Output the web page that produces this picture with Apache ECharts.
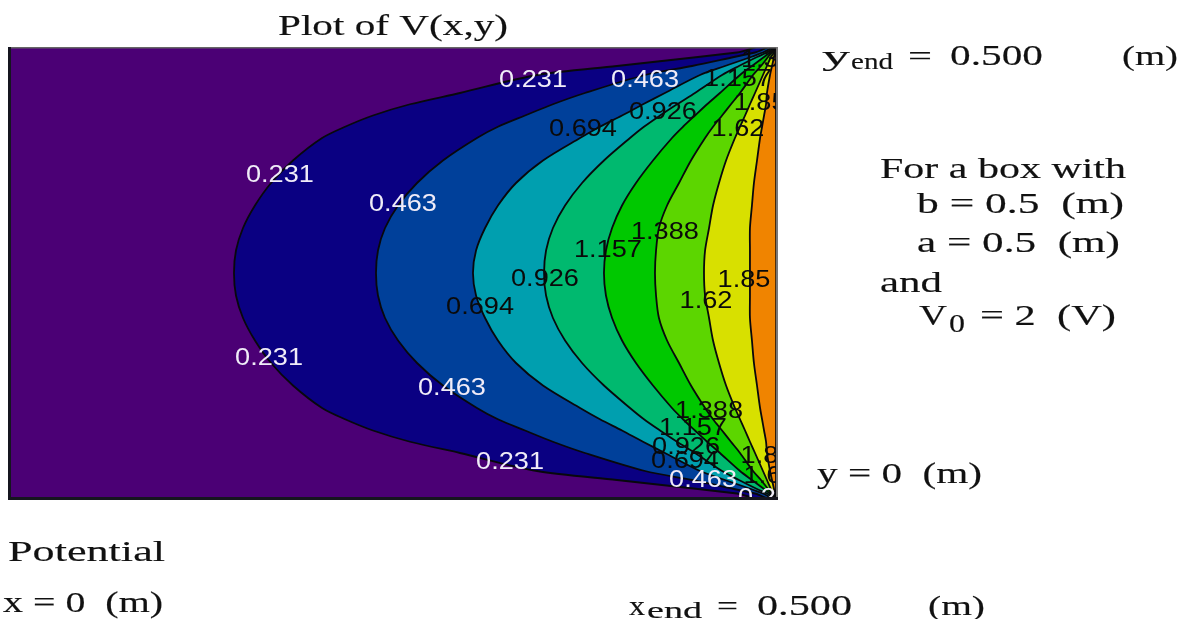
<!DOCTYPE html>
<html>
<head>
<meta charset="utf-8">
<style>html,body{margin:0;padding:0;background:#fff}#c{width:1181px;height:619px;filter:blur(0.45px)}</style>
<script src="https://cdn.jsdelivr.net/npm/echarts@6/dist/echarts.min.js"></script>
</head>
<body>
<div id="c"></div>
<script>
// Rows of the contour read-off, y in metres
const yRows = [0,.005,.01,.02,.03,.05,.0625,.075,.0875,.1,.125,.15,.175,.2,.225,.25,.275,.3,.325,.35,.375,.4,.4125,.425,.4375,.45,.47,.48,.49,.495,.5];
const levels = [0.231,0.463,0.694,0.926,1.157,1.388,1.62,1.85];
// x position (m) of each contour level on each row
const x0231 = [.5,.4745,.4491,.3962,.3440,.2937,.2611,.2369,.2187,.2037,.1847,.1704,.1599,.1521,.1475,.1462,.1475,.1521,.1599,.1704,.1847,.2037,.2187,.2369,.2611,.2937,.3440,.3962,.4491,.4745,.5];
const x0463 = [.5,.4863,.4726,.4452,.4145,.3753,.3544,.3362,.3185,.3048,.2826,.2657,.2533,.2448,.2402,.2389,.2402,.2448,.2533,.2657,.2826,.3048,.3185,.3362,.3544,.3753,.4145,.4452,.4726,.4863,.5];
const x0694 = [.5,.4915,.4837,.4667,.4504,.4275,.4132,.3995,.3851,.3721,.3479,.3303,.3185,.3101,.3042,.3022,.3042,.3101,.3185,.3303,.3479,.3721,.3851,.3995,.4132,.4275,.4504,.4667,.4837,.4915,.5];
const x0926 = [.5,.4941,.4876,.4758,.4648,.4471,.4354,.4243,.4138,.4047,.3877,.3734,.3623,.3544,.3499,.3486,.3499,.3544,.3623,.3734,.3877,.4047,.4138,.4243,.4354,.4471,.4648,.4758,.4876,.4941,.5];
const x1157 = [.5,.4961,.4922,.4843,.4765,.4634,.4550,.4471,.4393,.4321,.4197,.4086,.3995,.3930,.3890,.3877,.3890,.3930,.3995,.4086,.4197,.4321,.4393,.4471,.4550,.4634,.4765,.4843,.4922,.4961,.5];
const x1388 = [.5,.4974,.4948,.4902,.4850,.4765,.4706,.4648,.4589,.4537,.4445,.4367,.4289,.4236,.4217,.4210,.4217,.4236,.4289,.4367,.4445,.4537,.4589,.4648,.4706,.4765,.4850,.4902,.4948,.4974,.5];
const x1620 = [.5,.4987,.4967,.4941,.4915,.4863,.4830,.4798,.4765,.4732,.4674,.4628,.4589,.4563,.4537,.4530,.4537,.4563,.4589,.4628,.4674,.4732,.4765,.4798,.4830,.4863,.4915,.4941,.4967,.4987,.5];
const x1850 = [.5,.4993,.4987,.4974,.4961,.4941,.4935,.4922,.4909,.4896,.4876,.4856,.4843,.4830,.4830,.4830,.4830,.4830,.4843,.4856,.4876,.4896,.4909,.4922,.4935,.4941,.4961,.4974,.4987,.4993,.5];
const contourXs = [x0231,x0463,x0694,x0926,x1157,x1388,x1620,x1850];
const bandColors = ['#0A0082','#00409A','#009FAF','#00B96F','#00C800','#5CD600','#D8E000','#F08400'];
const baseColor = '#4B0075';
// Contour labels
const labelTexts = ['0.231','0.463','0.231','0.463','0.231','0.463','0.231','0.463','0.231',
 '0.694','0.926','1.157','1.85','1.62','1.388','1.388','1.157','0.926','0.694','1.85','1.62','1.388','1.157','0.926','0.694','1.85','1.62'];
const labelXs = [.3414,.4145,.1762,.2565,.1691,.2885,.3264,.4524,.4974,
 .3740,.4262,.4752,.4896,.4752,.4993,.4275,.3903,.3492,.3068,.4791,.4543,.4563,.4458,.4413,.4406,.4941,.4961];
const labelYs = [.4656,.4656,.3600,.3278,.1567,.1233,.0411,.0211,.0011,
 .4111,.4300,.4667,.4400,.4111,.4878,.2967,.2767,.2444,.2133,.2433,.2200,.0978,.0789,.0578,.0422,.0478,.0256];
// Annotation text: text, left, right, baseline, font size
const annotations = [
 ['Plot of V(x,y)',278,508,35,30],
 ['y',822,850,65,28],['end',851,893,69,24],['=',908,932,65,28],['0.500',950,1043,65,29],['(m)',1122,1178,65,28],
 ['For a box with',880,1126,178,29],
 ['b = 0.5  (m)',917,1124,213,29],
 ['a = 0.5  (m)',917,1120,252,29],
 ['and',880,942,292,29],
 ['V',919,947,325,29],['0',949,965,332,25],['= 2  (V)',980,1116,325,29],
 ['y = 0  (m)',817,982,483,29],
 ['Potential',8,165,561,29],
 ['x = 0  (m)',3,163,612,29],
 ['x',629,645,615,28],['end',647,702,618,24],['=',717,738,615,28],['0.500',757,852,615,29],['(m)',928,985,615,28]
];

const serif = '"Liberation Serif"';
const mctx = document.createElement('canvas').getContext('2d');
const graphics = annotations.map(function (a) {
  const font = a[4] + 'px ' + serif;
  mctx.font = font;
  const w = mctx.measureText(a[0]).width;
  return {type:'text', x:a[1], y:a[3]-0.27*a[4], scaleX:(a[2]-a[1])/w, silent:true,
    style:{text:a[0], font:font, fill:'#111', stroke:'#111', lineWidth:0.15, align:'left', verticalAlign:'middle'}};
});
// frame accents
graphics.push({type:'rect',shape:{x:8,y:47,width:770,height:1.5},style:{fill:'#666'},z:10});
graphics.push({type:'rect',shape:{x:776,y:47,width:2,height:452},style:{fill:'#777'},z:10});
graphics.push({type:'rect',shape:{x:8,y:47,width:3,height:453},style:{fill:'#15151f'},z:10});
graphics.push({type:'rect',shape:{x:8,y:497,width:770,height:3},style:{fill:'#15151f'},z:10});

const chart = echarts.init(document.getElementById('c'), null, {renderer:'canvas'});
chart.setOption({
  animation:false,
  backgroundColor:'#fff',
  grid:{left:10,top:48,width:766,height:450,show:true,backgroundColor:baseColor,borderWidth:0},
  xAxis:{type:'value',min:0,max:.5,show:false},
  yAxis:{type:'value',min:0,max:.5,show:false},
  graphic:graphics,
  series:[
    {type:'custom',clip:true,silent:true,z:2,
     data:levels.map(function(l,i){return [i,l];}),
     renderItem:function(p,api){
       const k=api.value(0);
       const pts=contourXs[k].map(function(x,i){return api.coord([x,yRows[i]]);});
       return {type:'polygon',shape:{points:pts,smooth:0.3},
         style:{fill:bandColors[k],stroke:'#08080c',lineWidth:1.8}};
     }},
    {type:'custom',clip:true,silent:true,z:3,
     data:labelTexts.map(function(t,i){return [labelXs[i],labelYs[i],i];}),
     renderItem:function(p,api){
       const i=api.value(2), c=api.coord([api.value(0),api.value(1)]);
       const t=labelTexts[i], white=parseFloat(t)<0.5;
       return {type:'text',x:c[0],y:c[1]+1.5,scaleX:1.18,
         style:{text:t,font:'23px "Liberation Sans"',fill:white?'#f0ecf8':'#0a0a0a',align:'center',verticalAlign:'middle'}};
     }}
  ]
});
</script>
</body>
</html>
